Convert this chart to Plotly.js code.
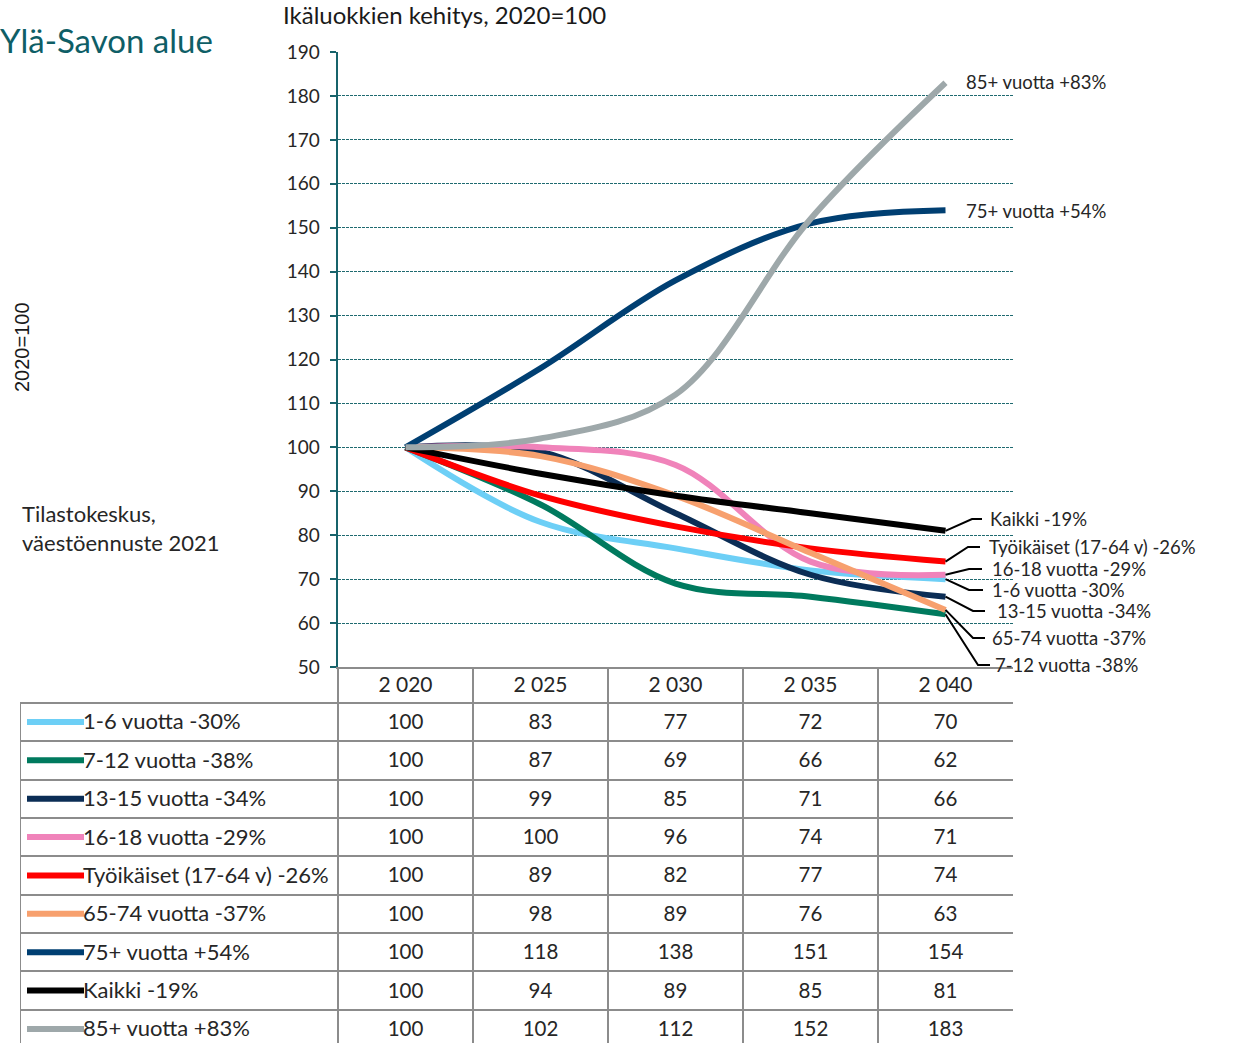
<!DOCTYPE html>
<html>
<head>
<meta charset="utf-8">
<script src="https://cdn.plot.ly/plotly-3.0.1.min.js"></script>
<style>html,body{margin:0;padding:0;background:#fff;} #chart{width:1234px;height:1043px;}</style>
</head>
<body>
<div id="chart"></div>
<script>
// ---------- DATA ----------
const years = ["2 020", "2 025", "2 030", "2 035", "2 040"];
const seriesNames = [
  "1-6 vuotta -30%",
  "7-12 vuotta -38%",
  "13-15 vuotta -34%",
  "16-18 vuotta -29%",
  "Työikäiset (17-64 v) -26%",
  "65-74 vuotta -37%",
  "75+ vuotta +54%",
  "Kaikki -19%",
  "85+ vuotta +83%"
];
const v1_6      = [100, 83, 77, 72, 70];
const v7_12     = [100, 87, 69, 66, 62];
const v13_15    = [100, 99, 85, 71, 66];
const v16_18    = [100, 100, 96, 74, 71];
const vTyoikais = [100, 89, 82, 77, 74];
const v65_74    = [100, 98, 89, 76, 63];
const v75plus   = [100, 118, 138, 151, 154];
const vKaikki   = [100, 94, 89, 85, 81];
const v85plus   = [100, 102, 112, 152, 183];
const seriesValues = [v1_6, v7_12, v13_15, v16_18, vTyoikais, v65_74, v75plus, vKaikki, v85plus];

// ---------- STYLE ----------
const colors = ["#6DCFF6", "#007A5E", "#0B2D55", "#F083BA", "#FF0000", "#F7A06E", "#003F72", "#000000", "#9EA8AA"];
const W = 1234, H = 1043;
const FONT = "Lato, 'Open Sans', sans-serif";
const TXT = "#262626";
const TEAL = "#17636B";
const GRIDGRAY = "#8C8C8C";

// layout geometry (pixels)
const plotL = 338, plotR = 1013, plotT = 52, plotB = 667;
const colW = (plotR - plotL) / years.length;        // 135 px per column
const tableL = 20;
const rowH = 38.36, row0Center = 722;
const yMin = 50, yMax = 190;
const pxPerUnit = (plotB - plotT) / (yMax - yMin);

const xIdx = years.map((_, i) => i);
const x2Left = -0.5 - (plotL - tableL) / colW;
const y2Top = (plotB - row0Center) / rowH;
const y2Bot = (H - row0Center) / rowH;
const headerRow = (y2Top + -0.5) / 2;
const textNudge = 0.05; // small downward nudge so text sits centred in cells

function pixToVal(py) { return yMax - (py - plotT) / pxPerUnit; }
function pixToX(px) { return (px - (plotL + colW / 2)) / colW; }

// right-hand label layout: [series index, text left px, text center y px, elbow x px, end of horizontal px]
const endLabels = [
  [8, 964, 82, null, null],
  [6, 964, 211, null, null],
  [7, 988, 519, 972, 982],
  [4, 987, 547, 968, 980],
  [3, 990, 569, 969, 982],
  [0, 990, 590, 969, 983],
  [2, 995, 611, 973, 985],
  [5, 990, 638, 973, 985],
  [1, 993, 665, 978, 990]
];

const traces = [];
// main lines
seriesValues.forEach((vals, i) => {
  traces.push({
    type: "scatter", mode: "lines", x: xIdx, y: vals, name: seriesNames[i],
    line: {color: colors[i], width: 6, shape: "spline", smoothing: 1},
    xaxis: "x", yaxis: "y", hoverinfo: "skip", showlegend: false
  });
});
// table header
traces.push({
  type: "scatter", mode: "text", x: xIdx, y: xIdx.map(() => headerRow + textNudge), text: years,
  textfont: {family: FONT, size: 21, color: TXT}, xaxis: "x2", yaxis: "y2",
  hoverinfo: "skip", showlegend: false
});
// table rows
seriesValues.forEach((vals, i) => {
  traces.push({
    type: "scatter", mode: "text", x: xIdx, y: xIdx.map(() => i + textNudge), text: vals.map(String),
    textfont: {family: FONT, size: 20.5, color: TXT}, xaxis: "x2", yaxis: "y2",
    hoverinfo: "skip", showlegend: false
  });
  // legend key line
  traces.push({
    type: "scatter", mode: "lines", x: [pixToX(27), pixToX(84)], y: [i, i],
    line: {color: colors[i], width: 6}, xaxis: "x2", yaxis: "y2",
    hoverinfo: "skip", showlegend: false
  });
  traces.push({
    type: "scatter", mode: "text", x: [pixToX(83)], y: [i + textNudge], text: [seriesNames[i]],
    textposition: "middle right",
    textfont: {family: FONT, size: 22, color: TXT}, xaxis: "x2", yaxis: "y2",
    hoverinfo: "skip", showlegend: false
  });
});

const shapes = [];
const annotations = [];
const last = years.length - 1;
endLabels.forEach(([si, tx, ty, ex, hx]) => {
  const endVal = seriesValues[si][last];
  annotations.push({
    xref: "x", yref: "y", x: pixToX(tx), y: pixToVal(ty), text: seriesNames[si],
    showarrow: false, xanchor: "left", yanchor: "middle",
    font: {family: FONT, size: 18.5, color: TXT}
  });
  if (ex !== null) {
    shapes.push({
      type: "path", xref: "x", yref: "y",
      path: `M${last},${endVal} L${pixToX(ex)},${pixToVal(ty)} L${pixToX(hx)},${pixToVal(ty)}`,
      line: {color: "#000", width: 2}
    });
  }
});
// left border of label column
shapes.push({
  type: "line", xref: "x2", yref: "y2", x0: x2Left, x1: x2Left, y0: -0.5, y1: y2Bot,
  line: {color: GRIDGRAY, width: 2}
});

annotations.push(
  {xref: "paper", yref: "paper", x: 215 / W, y: 1 - 40 / H, text: "Ylä-Savon alue",
   showarrow: false, xanchor: "right", yanchor: "middle",
   font: {family: FONT, size: 33, color: "#0E5E66"}},
  {xref: "paper", yref: "paper", x: 281 / W, y: 1 - 15 / H, text: "Ikäluokkien kehitys, 2020=100",
   showarrow: false, xanchor: "left", yanchor: "middle",
   font: {family: FONT, size: 24, color: "#1a1a1a"}},
  {xref: "paper", yref: "paper", x: 22 / W, y: 1 - 347 / H, text: "2020=100",
   showarrow: false, textangle: -90, xanchor: "center", yanchor: "middle",
   font: {family: "'Liberation Sans', Arial, sans-serif", size: 20, color: "#1a1a1a"}},
  {xref: "paper", yref: "paper", x: 20 / W, y: 1 - 528 / H, text: "Tilastokeskus,<br>väestöennuste 2021",
   showarrow: false, xanchor: "left", yanchor: "middle", align: "left",
   font: {family: FONT, size: 22, color: TXT}}
);

const layout = {
  width: W, height: H,
  margin: {l: 0, r: 0, t: 0, b: 0},
  paper_bgcolor: "#fff", plot_bgcolor: "rgba(0,0,0,0)",
  showlegend: false,
  xaxis: {
    domain: [plotL / W, plotR / W], range: [-0.5, last + 0.5], anchor: "y",
    showticklabels: false, ticks: "", showgrid: false, zeroline: false,
    showline: true, linecolor: GRIDGRAY, linewidth: 2, fixedrange: true
  },
  yaxis: {
    domain: [1 - plotB / H, 1 - plotT / H], range: [yMin, yMax], anchor: "x",
    dtick: 10, tick0: 50, ticks: "outside", ticklen: 6, tickwidth: 2, tickcolor: TEAL,
    showline: true, linecolor: TEAL, linewidth: 2.5,
    showgrid: true, gridcolor: "#1F6A70", gridwidth: 1, griddash: "3px,1px",
    zeroline: false, ticklabelstandoff: 6,
    tickfont: {family: FONT, size: 19, color: TXT}, fixedrange: true
  },
  xaxis2: {
    domain: [tableL / W, plotR / W], range: [x2Left, last + 0.5], anchor: "y2",
    tickmode: "array", tickvals: [-0.5, 0.5, 1.5, 2.5, 3.5, 4.5],
    showticklabels: false, ticks: "", showgrid: true, gridcolor: GRIDGRAY, gridwidth: 2,
    zeroline: false, showline: false, fixedrange: true
  },
  yaxis2: {
    domain: [0, 1 - plotB / H], range: [y2Bot, y2Top], anchor: "x2",
    tickmode: "array", tickvals: seriesNames.map((_, i) => i - 0.5).concat([seriesNames.length - 0.5]),
    showticklabels: false, ticks: "", showgrid: true, gridcolor: GRIDGRAY, gridwidth: 2,
    zeroline: false, showline: false, fixedrange: true
  },
  shapes: shapes,
  annotations: annotations
};

Plotly.newPlot("chart", traces, layout, {displayModeBar: false, staticPlot: true});
</script>
</body>
</html>
